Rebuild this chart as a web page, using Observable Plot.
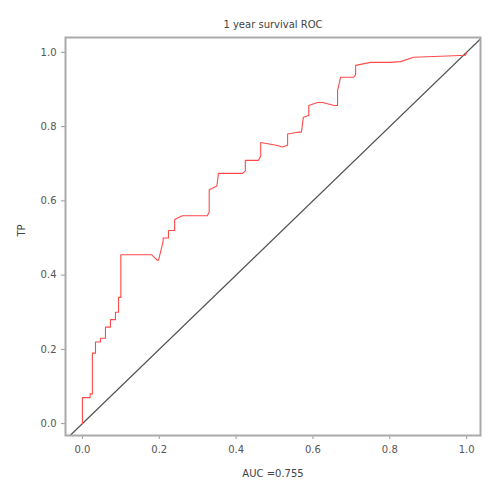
<!DOCTYPE html>
<html>
<head>
<meta charset="utf-8">
<script src="https://cdn.jsdelivr.net/npm/d3@7"></script>
<script src="https://cdn.jsdelivr.net/npm/@observablehq/plot@0.6"></script>
<style>
  body { margin: 0; background: #fff; }
  svg { font-family: "DejaVu Sans", sans-serif; }
</style>
</head>
<body>
<div id="chart"></div>
<script>
const titleText = "1 year survival ROC";
const xLabel = "AUC =0.755";
const yLabel = "TP";
const tickValues = [0, 0.2, 0.4, 0.6, 0.8, 1.0];

// ROC curve points
const fpr = [0, 0, 0.02, 0.02, 0.026, 0.026, 0.034, 0.034, 0.047, 0.047, 0.06, 0.06, 0.073, 0.073, 0.086, 0.086, 0.094, 0.094, 0.10, 0.10, 0.18, 0.185, 0.195, 0.198, 0.21, 0.21, 0.224, 0.224, 0.24, 0.24, 0.26, 0.325, 0.33, 0.33, 0.35, 0.354, 0.417, 0.424, 0.424, 0.458, 0.464, 0.464, 0.508, 0.52, 0.534, 0.534, 0.56, 0.57, 0.575, 0.589, 0.589, 0.612, 0.625, 0.655, 0.664, 0.664, 0.672, 0.706, 0.711, 0.711, 0.75, 0.8, 0.828, 0.862, 0.95, 0.997, 1];
const tpr = [0, 0.07, 0.07, 0.08, 0.08, 0.19, 0.19, 0.22, 0.22, 0.23, 0.23, 0.26, 0.26, 0.28, 0.28, 0.30, 0.30, 0.34, 0.34, 0.455, 0.455, 0.45, 0.44, 0.44, 0.49, 0.50, 0.50, 0.52, 0.52, 0.55, 0.56, 0.56, 0.57, 0.63, 0.64, 0.674, 0.674, 0.68, 0.709, 0.709, 0.72, 0.757, 0.749, 0.745, 0.75, 0.78, 0.785, 0.785, 0.825, 0.83, 0.857, 0.865, 0.865, 0.857, 0.857, 0.897, 0.933, 0.933, 0.94, 0.965, 0.973, 0.973, 0.975, 0.987, 0.99, 0.992, 1];

const roc = fpr.map((f, i) => ({fp: f, tp: tpr[i]}));
const diag = [{v: -0.044}, {v: 1.036}];

const xDom = [-0.044, 1.036];
const yDom = [-0.032, 1.04];

const chart = Plot.plot({
  width: 500,
  height: 500,
  marginLeft: 65,
  marginRight: 20,
  marginTop: 37,
  marginBottom: 65,
  x: {domain: xDom, ticks: tickValues, tickFormat: d3.format(".1f"), label: null},
  y: {domain: yDom, ticks: tickValues, tickFormat: d3.format(".1f"), label: null},
  style: {fontSize: "10px", color: "#555"},
  marks: [
    Plot.axisX({ticks: tickValues, tickFormat: d3.format(".1f"), tickSize: 4, tickPadding: 6, stroke: "#999", fill: "#555", fontSize: 10, label: null}),
    Plot.axisY({ticks: tickValues, tickFormat: d3.format(".1f"), tickSize: 4, tickPadding: 5, stroke: "#999", fill: "#555", fontSize: 10, label: null}),
    Plot.line(diag, {x: "v", y: "v", stroke: "#555", strokeWidth: 1.3, clip: true}),
    Plot.line(roc, {x: "fp", y: "tp", stroke: "#ff4a4a", strokeWidth: 1.1}),
    Plot.frame({stroke: "#aaa", strokeWidth: 2}),
    Plot.text([titleText], {frameAnchor: "top", dy: -17, fill: "#444", fontSize: 10}),
    Plot.text([xLabel], {frameAnchor: "bottom", dy: 41, fill: "#444", fontSize: 10}),
    Plot.text([yLabel], {frameAnchor: "left", dx: -44, rotate: -90, fill: "#444", fontSize: 10})
  ]
});
document.getElementById("chart").appendChild(chart);
</script>
</body>
</html>
